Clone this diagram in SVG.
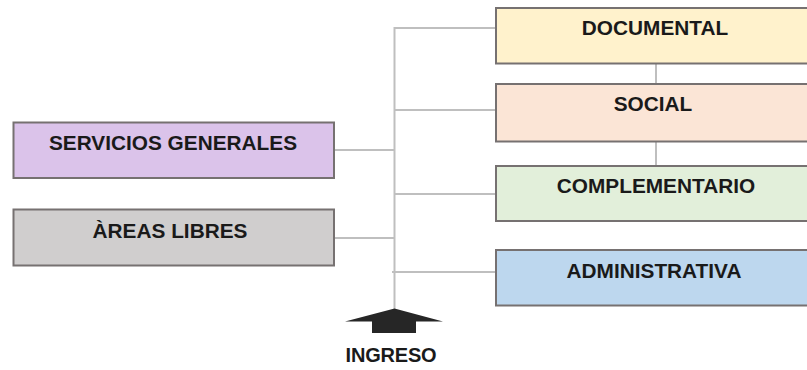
<svg xmlns="http://www.w3.org/2000/svg" width="807" height="370" viewBox="0 0 807 370">
<style>
.box{stroke:#767171;stroke-width:2}
.lbl{font-family:"Liberation Sans",Arial,sans-serif;font-weight:bold;font-size:20.8px;fill:#1a1a1a;text-anchor:middle}
.con{stroke:#bfbfbf;stroke-width:2;fill:none}
</style>
<rect width="807" height="370" fill="#ffffff"/>
<g id="connectors">
<line class="con" x1="394.5" y1="27" x2="394.5" y2="310"/>
<line class="con" x1="394" y1="28" x2="496" y2="28"/>
<line class="con" x1="394" y1="110" x2="496" y2="110"/>
<line class="con" x1="394" y1="194" x2="496" y2="194"/>
<line class="con" x1="392" y1="272" x2="496" y2="272"/>
<line class="con" x1="334" y1="150" x2="395" y2="150"/>
<line class="con" x1="334" y1="238" x2="395" y2="238"/>
<line class="con" x1="656" y1="63" x2="656" y2="84"/>
<line class="con" x1="656" y1="142" x2="656" y2="166"/>
</g>
<g id="documental">
<rect class="box" x="496" y="8" width="318" height="55.5" fill="#fff2cc"/>
<text class="lbl" x="655" y="35">DOCUMENTAL</text>
</g>
<g id="social">
<rect class="box" x="496" y="84" width="318" height="57.5" fill="#fbe5d6"/>
<text class="lbl" x="653" y="111">SOCIAL</text>
</g>
<g id="complementario">
<rect class="box" x="496" y="166" width="318" height="55" fill="#e2efda"/>
<text class="lbl" x="656" y="193">COMPLEMENTARIO</text>
</g>
<g id="administrativa">
<rect class="box" x="496" y="250" width="318" height="55.5" fill="#bdd7ee"/>
<text class="lbl" x="654" y="278">ADMINISTRATIVA</text>
</g>
<g id="servicios-generales">
<rect class="box" x="13.5" y="122.5" width="320.5" height="55.5" fill="#dbc3ea"/>
<text class="lbl" x="173" y="149.5">SERVICIOS GENERALES</text>
</g>
<g id="areas-libres">
<rect class="box" x="13.5" y="209.5" width="320.5" height="56" fill="#d0cece"/>
<text class="lbl" x="170" y="238">ÀREAS LIBRES</text>
</g>
<g id="ingreso">
<polygon points="394.5,308.5 443,321.5 416,321.5 416,333 372,333 372,321.5 345,321.5" fill="#262626"/>
<text class="lbl" x="391" y="362" style="font-size:20px;letter-spacing:-0.2px">INGRESO</text>
</g>
</svg>
